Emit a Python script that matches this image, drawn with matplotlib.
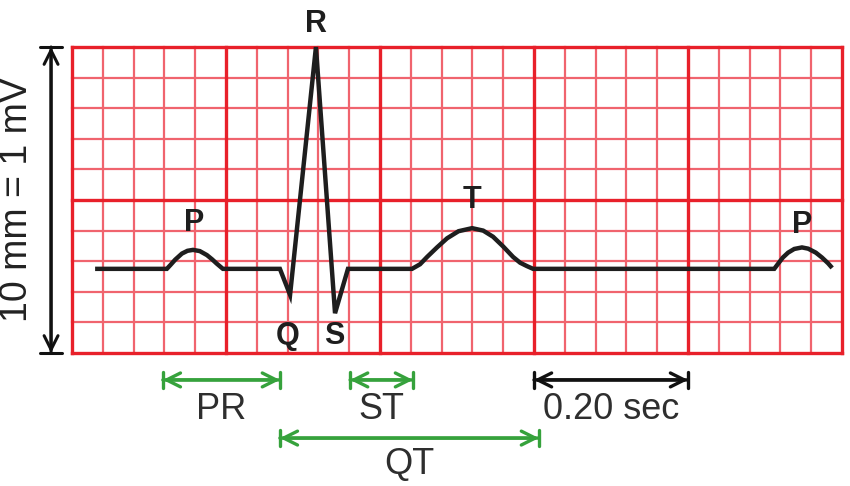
import matplotlib
matplotlib.use("Agg")
import matplotlib.pyplot as plt
from matplotlib.patches import ArrowStyle
import numpy as np

plt.rcParams['font.family'] = ['Liberation Sans', 'DejaVu Sans']

# ECG trace, in small boxes (1 box = 1 mm = 0.04 s / 0.1 mV)
ecg_x = [0.75, 3.08, 3.20, 3.35, 3.57, 3.75, 3.93, 4.15, 4.38, 4.55, 4.70, 4.90,
         6.75, 7.08, 7.92, 8.54, 8.96,
         11.04, 11.30, 11.53, 11.85, 12.18, 12.55, 12.99, 13.35, 13.67, 14.00, 14.32, 14.55, 14.77, 14.97,
         22.80, 22.95, 23.08, 23.25, 23.45, 23.70, 23.90, 24.15, 24.35, 24.55, 24.68]
ecg_y = [2.75, 2.75, 2.88, 3.05, 3.25, 3.34, 3.37, 3.33, 3.20, 3.06, 2.92, 2.75,
         2.75, 1.90, 10.0, 1.30, 2.75,
         2.75, 2.90, 3.14, 3.45, 3.75, 3.98, 4.08, 4.00, 3.80, 3.48, 3.14, 2.95, 2.84, 2.75,
         2.75, 2.95, 3.12, 3.28, 3.40, 3.45, 3.41, 3.28, 3.12, 2.93, 2.78]

# wave labels
wave_names = ['P', 'Q', 'R', 'S', 'T', 'P']
wave_x = [3.97, 7.01, 7.92, 8.51, 12.99, 23.70]
wave_y = [4.25, 0.56, 10.75, 0.56, 5.00, 4.18]

# interval markers (start, end in boxes)
interval_names = ['PR', 'ST', 'QT', '0.20 sec']
interval_start = [2.95, 9.03, 6.75, 15.0]
interval_end = [6.75, 11.07, 15.16, 20.0]
interval_row = [-0.88, -0.88, -2.78, -0.88]
interval_text_y = [-1.86, -1.86, -3.63, -1.86]
interval_color = ['#36a23c', '#36a23c', '#36a23c', '#111111']

n_cols, n_rows = 25, 10


def bar_arrow(ax, p0, p1, color, lw, bar_w):
    """double headed arrow with a bar at each end"""
    heads = ArrowStyle('<->', head_length=1.0, head_width=0.5)
    bars = ArrowStyle('|-|', widthA=bar_w, widthB=bar_w, angleA=0, angleB=0)
    for st in (heads, bars):
        ax.annotate('', xy=p1, xytext=p0,
                    arrowprops=dict(arrowstyle=st, color=color, lw=lw,
                                    shrinkA=0, shrinkB=0, mutation_scale=10),
                    annotation_clip=False)


fig = plt.figure(figsize=(8.5, 4.86), dpi=100)
ax = fig.add_axes([72 / 850, (486 - 353) / 486, 770 / 850, 306 / 486])
ax.set_xlim(0, n_cols)
ax.set_ylim(0, n_rows)
ax.axis('off')

# ECG paper grid
for i in range(n_cols + 1):
    if i % 5 == 0:
        ax.axvline(i, color='#e8202a', lw=2.4, zorder=2, clip_on=False)
    else:
        ax.axvline(i, color='#f0646e', lw=1.6, zorder=1, clip_on=False)
for j in range(n_rows + 1):
    if j % 5 == 0:
        ax.axhline(j, color='#e8202a', lw=2.4, zorder=2, clip_on=False)
    else:
        ax.axhline(j, color='#f0646e', lw=1.6, zorder=1, clip_on=False)

# trace
ax.plot(ecg_x, ecg_y, color='#1e1e1e', lw=3.2, solid_joinstyle='miter',
        solid_capstyle='butt', zorder=5, clip_on=False)

for name, x, y in zip(wave_names, wave_x, wave_y):
    ax.text(x, y, name, ha='center', va='center', fontsize=22,
            fontweight='bold', color='#1e1e1e', zorder=6)

# intervals below the paper
for name, x0, x1, yr, yt, c in zip(interval_names, interval_start, interval_end,
                                    interval_row, interval_text_y, interval_color):
    bar_arrow(ax, (x0, yr), (x1, yr), c, 2.4, 0.6)
    ax.text((x0 + x1) / 2, yt, name, ha='center', va='center',
            fontsize=26, color='#2e2e2e', clip_on=False)

# vertical calibration arrow
bar_arrow(ax, (-0.68, 0), (-0.68, 10), '#111111', 2.2, 0.8)
ax.text(-1.79, 5.0, '10 mm = 1 mV', rotation=90, ha='center', va='center',
        fontsize=27, color='#222222', clip_on=False)

fig.savefig('out.png', dpi=100)
